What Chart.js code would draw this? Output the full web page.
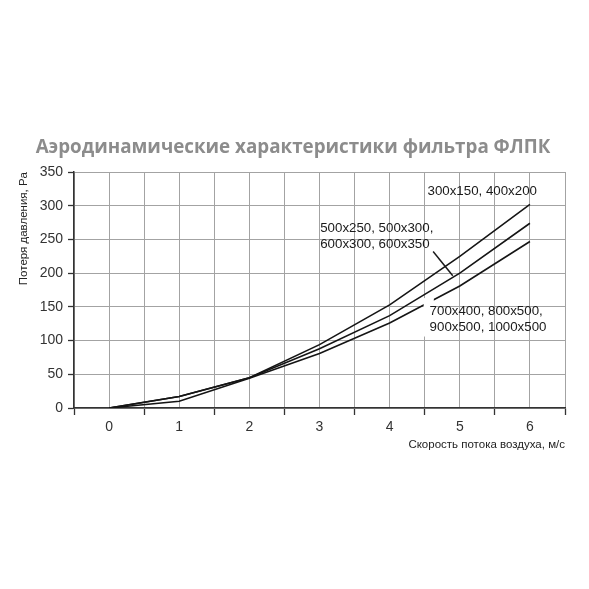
<!DOCTYPE html>
<html><head><meta charset="utf-8">
<script src="https://cdn.jsdelivr.net/npm/chart.js@4/dist/chart.umd.min.js"></script>
<style>html,body{margin:0;padding:0;background:#fff}#wrap{width:589px;height:589px}</style>
</head><body><div id="wrap"><canvas id="c" width="589" height="589"></canvas></div>
<script>
const velocities = [0, 1, 2, 3, 4, 5, 6];
const series1Label = '300x150, 400x200';
const series1 = [0, 17, 45, 94, 153, 225, 302];
const series2Label = '500x250, 500x300, 600x300, 600x350';
const series2 = [0, 17, 45, 88, 137, 200, 274];
const series3Label = '700x400, 800x500, 900x500, 1000x500';
const series3 = [0, 10, 44, 81, 126, 181, 247];
const yTicks = [0, 50, 100, 150, 200, 250, 300, 350];
const titleText = 'Аэродинамические характеристики фильтра ФЛПК';
const xTitle = 'Скорость потока воздуха, м/с';
const yTitle = 'Потеря давления, Pa';
// annotation text lines with their anchor in data units
const notes = [
  {lines: ['300x150, 400x200'], x: 4.54, y: 322},
  {lines: ['500x250, 500x300,', '600x300, 600x350'], x: 3.01, y: 266.5},
  {lines: ['700x400, 800x500,', '900x500, 1000x500'], x: 4.57, y: 143}
];
const pointer = {x1: 4.62, y1: 232, x2: 4.9, y2: 196};
const mask = {x1: 4.485, x2: 4.63, y1: 163, y2: 106};

const toPts = arr => velocities.map((v, i) => ({x: v, y: arr[i]}));
const isInt = v => Math.abs(v - Math.round(v)) < 1e-6;

const titlePlugin = {
  id: 'topTitle',
  afterDraw(chart) {
    const {ctx, width} = chart;
    ctx.save();
    ctx.font = 'bold 18.8px "Open Sans", sans-serif';
    ctx.fillStyle = '#8c8c8c';
    ctx.textAlign = 'center';
    ctx.textBaseline = 'alphabetic';
    ctx.fillText(titleText, width / 2 - 1.5, 153);
    ctx.restore();
  }
};

const notesPlugin = {
  id: 'notes',
  afterDatasetsDraw(chart) {
    const {ctx, scales: {x, y}} = chart;
    ctx.save();
    ctx.fillStyle = '#fff';
    ctx.fillRect(x.getPixelForValue(mask.x1), y.getPixelForValue(mask.y1),
      x.getPixelForValue(mask.x2) - x.getPixelForValue(mask.x1),
      y.getPixelForValue(mask.y2) - y.getPixelForValue(mask.y1));
    ctx.font = '13.3px "Liberation Sans", Arial, sans-serif';
    ctx.fillStyle = '#1a1a1a';
    ctx.textBaseline = 'middle';
    ctx.textAlign = 'left';
    notes.forEach(n => {
      const px = x.getPixelForValue(n.x);
      const py = y.getPixelForValue(n.y);
      n.lines.forEach((t, i) => ctx.fillText(t, px, py + i * 16));
    });
    ctx.strokeStyle = '#1a1a1a';
    ctx.lineWidth = 1.5;
    ctx.beginPath();
    ctx.moveTo(x.getPixelForValue(pointer.x1), y.getPixelForValue(pointer.y1));
    ctx.lineTo(x.getPixelForValue(pointer.x2), y.getPixelForValue(pointer.y2));
    ctx.stroke();
    ctx.restore();
  }
};

const lineStyle = {borderColor: '#151515', borderWidth: 1.6, pointRadius: 0, tension: 0, fill: false};

new Chart(document.getElementById('c'), {
  type: 'line',
  data: {
    datasets: [
      Object.assign({label: series1Label, data: toPts(series1)}, lineStyle),
      Object.assign({label: series2Label, data: toPts(series2)}, lineStyle),
      Object.assign({label: series3Label, data: toPts(series3)}, lineStyle)
    ]
  },
  options: {
    responsive: false,
    animation: false,
    events: [],
    layout: {padding: {left: 0, right: 24, top: 172, bottom: 136}},
    plugins: {
      legend: {display: false},
      tooltip: {enabled: false},
      title: {display: false}
    },
    scales: {
      x: {
        type: 'linear', min: -0.5, max: 6.5,
        afterFit: s => { s.height = 45; },
        ticks: {
          stepSize: 0.5, autoSkip: false, maxRotation: 0, padding: 4,
          color: '#333', font: {family: '"Liberation Sans", Arial, sans-serif', size: 14},
          callback: v => isInt(v) ? String(Math.round(v)) : ''
        },
        grid: {
          color: '#a3a3a3', lineWidth: 1, drawTicks: true, tickLength: 7,
          tickColor: c => isInt(c.tick.value) ? 'rgba(0,0,0,0)' : '#333', tickWidth: 1.3
        },
        border: {display: true, color: '#333', width: 1.5},
        title: {
          display: true, text: xTitle, align: 'end', color: '#222',
          font: {family: '"Liberation Sans", Arial, sans-serif', size: 11.5, lineHeight: 1.2},
          padding: {top: 0, bottom: 1.2}
        }
      },
      y: {
        type: 'linear', min: 0, max: 350,
        afterFit: s => { s.width = 74; },
        afterBuildTicks: s => { s.ticks = yTicks.map(v => ({value: v})); },
        ticks: {
          color: '#333', padding: 5,
          font: {family: '"Liberation Sans", Arial, sans-serif', size: 14}
        },
        grid: {color: '#a3a3a3', lineWidth: 1, drawTicks: true, tickLength: 6, tickColor: '#333', tickWidth: 1.3},
        border: {display: true, color: '#333', width: 1.5},
        title: {
          display: true, text: yTitle, align: 'end', color: '#222',
          font: {family: '"Liberation Sans", Arial, sans-serif', size: 11.5, lineHeight: 1.2},
          padding: {top: 17, bottom: 0}
        }
      }
    }
  },
  plugins: [notesPlugin, titlePlugin]
});
</script>
</body></html>
